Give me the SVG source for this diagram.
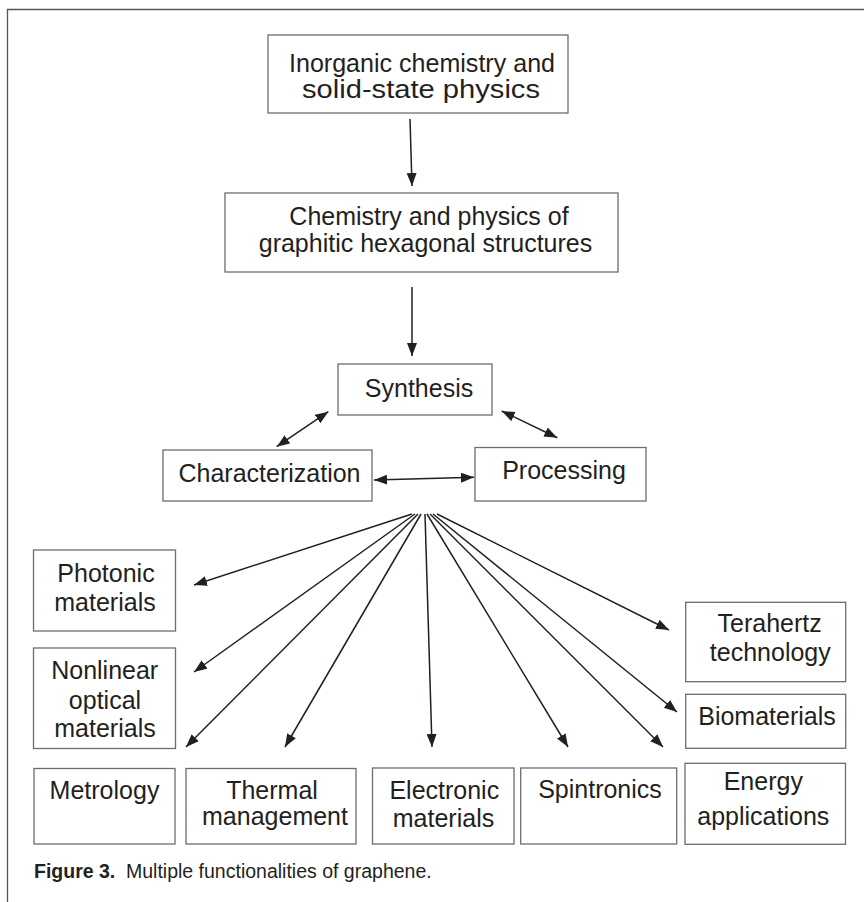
<svg xmlns="http://www.w3.org/2000/svg" width="864" height="902" viewBox="0 0 864 902">
<style>
.box{fill:#fff;stroke:#6d6d6d;stroke-width:1.3}
.t{font-family:"Liberation Sans",Arial,sans-serif;font-size:25px;fill:#231f20;text-anchor:middle}
.c{stroke:#231f20;stroke-width:1.5;fill:none}
.cap{font-family:"Liberation Sans",Arial,sans-serif;font-size:19.5px;fill:#231f20}
</style>
<defs>
<marker id="ah" markerUnits="userSpaceOnUse" markerWidth="14" markerHeight="11" refX="13" refY="5" orient="auto-start-reverse" viewBox="0 0 14 11">
<path d="M0,0 L13,5 L0,10 z" fill="#231f20"/>
</marker>
</defs>
<rect width="864" height="902" fill="#fff"/>
<path d="M7.5,902 V9.5 H864" fill="none" stroke="#555" stroke-width="1.3"/>

<g id="n-inorganic">
<rect class="box" x="268" y="35" width="300" height="78"/>
<text class="t" x="422" y="71.5" font-size="24.5" textLength="266" lengthAdjust="spacingAndGlyphs">Inorganic chemistry and</text>
<text class="t" x="421" y="97.5" font-size="24.5" textLength="238" lengthAdjust="spacingAndGlyphs">solid-state physics</text>
</g>
<g id="n-graphitic">
<rect class="box" x="225" y="193" width="393" height="79"/>
<text class="t" x="429" y="224.5">Chemistry and physics of</text>
<text class="t" x="425.5" y="252">graphitic hexagonal structures</text>
</g>
<g id="n-synthesis">
<rect class="box" x="338" y="364" width="154" height="51"/>
<text class="t" x="419" y="397">Synthesis</text>
</g>
<g id="n-characterization">
<rect class="box" x="163" y="450" width="209" height="51"/>
<text class="t" x="269.5" y="482">Characterization</text>
</g>
<g id="n-processing">
<rect class="box" x="475" y="447.5" width="171" height="53.5"/>
<text class="t" x="564" y="478.5">Processing</text>
</g>
<g id="n-photonic">
<rect class="box" x="33.5" y="550" width="142" height="81"/>
<text class="t" x="106" y="582">Photonic</text>
<text class="t" x="105" y="611">materials</text>
</g>
<g id="n-nonlinear">
<rect class="box" x="33.5" y="648" width="142" height="100.5"/>
<text class="t" x="104.7" y="679">Nonlinear</text>
<text class="t" x="105" y="708.5">optical</text>
<text class="t" x="105" y="737">materials</text>
</g>
<g id="n-terahertz">
<rect class="box" x="685.7" y="602.3" width="160" height="79.4"/>
<text class="t" x="769.7" y="632">Terahertz</text>
<text class="t" x="770.3" y="661">technology</text>
</g>
<g id="n-biomaterials">
<rect class="box" x="685.7" y="694.3" width="160" height="54"/>
<text class="t" x="767" y="725">Biomaterials</text>
</g>
<g id="n-metrology">
<rect class="box" x="34" y="768.5" width="141" height="75.5"/>
<text class="t" x="104.5" y="798.5" font-size="24.5">Metrology</text>
</g>
<g id="n-thermal">
<rect class="box" x="186" y="768.5" width="170" height="75.5"/>
<text class="t" x="272" y="798.5" font-size="24">Thermal</text>
<text class="t" x="275" y="824.5" font-size="24">management</text>
</g>
<g id="n-electronic">
<rect class="box" x="372.5" y="768" width="141.5" height="76"/>
<text class="t" x="444.3" y="799">Electronic</text>
<text class="t" x="443.5" y="827">materials</text>
</g>
<g id="n-spintronics">
<rect class="box" x="520.7" y="768" width="156" height="76"/>
<text class="t" x="600" y="798">Spintronics</text>
</g>
<g id="n-energy">
<rect class="box" x="685" y="763.3" width="160.5" height="81"/>
<text class="t" x="763.3" y="789.5" font-size="26">Energy</text>
<text class="t" x="763.3" y="824.5" font-size="26">applications</text>
</g>

<g id="connectors">
<line class="c" x1="410" y1="119" x2="412" y2="186" marker-end="url(#ah)"/>
<line class="c" x1="412" y1="287" x2="412" y2="356" marker-end="url(#ah)"/>
<line class="c" x1="328.3" y1="411.7" x2="276.7" y2="446.7" marker-start="url(#ah)" marker-end="url(#ah)"/>
<line class="c" x1="501.7" y1="411" x2="557.3" y2="437.7" marker-start="url(#ah)" marker-end="url(#ah)"/>
<line class="c" x1="374" y1="480" x2="474" y2="477.3" marker-start="url(#ah)" marker-end="url(#ah)"/>
<line class="c" x1="412" y1="514" x2="194" y2="585" marker-end="url(#ah)"/>
<line class="c" x1="415" y1="514" x2="194" y2="672" marker-end="url(#ah)"/>
<line class="c" x1="418" y1="514" x2="186" y2="747" marker-end="url(#ah)"/>
<line class="c" x1="421" y1="514" x2="285" y2="747" marker-end="url(#ah)"/>
<line class="c" x1="425" y1="514" x2="432" y2="747" marker-end="url(#ah)"/>
<line class="c" x1="427" y1="514" x2="568" y2="747" marker-end="url(#ah)"/>
<line class="c" x1="430" y1="514" x2="663" y2="747" marker-end="url(#ah)"/>
<line class="c" x1="433" y1="514" x2="677" y2="712" marker-end="url(#ah)"/>
<line class="c" x1="437" y1="514" x2="669" y2="630" marker-end="url(#ah)"/>
</g>

<text class="cap" x="34" y="878"><tspan font-weight="bold">Figure 3.</tspan><tspan x="126">Multiple functionalities of graphene.</tspan></text>
</svg>
